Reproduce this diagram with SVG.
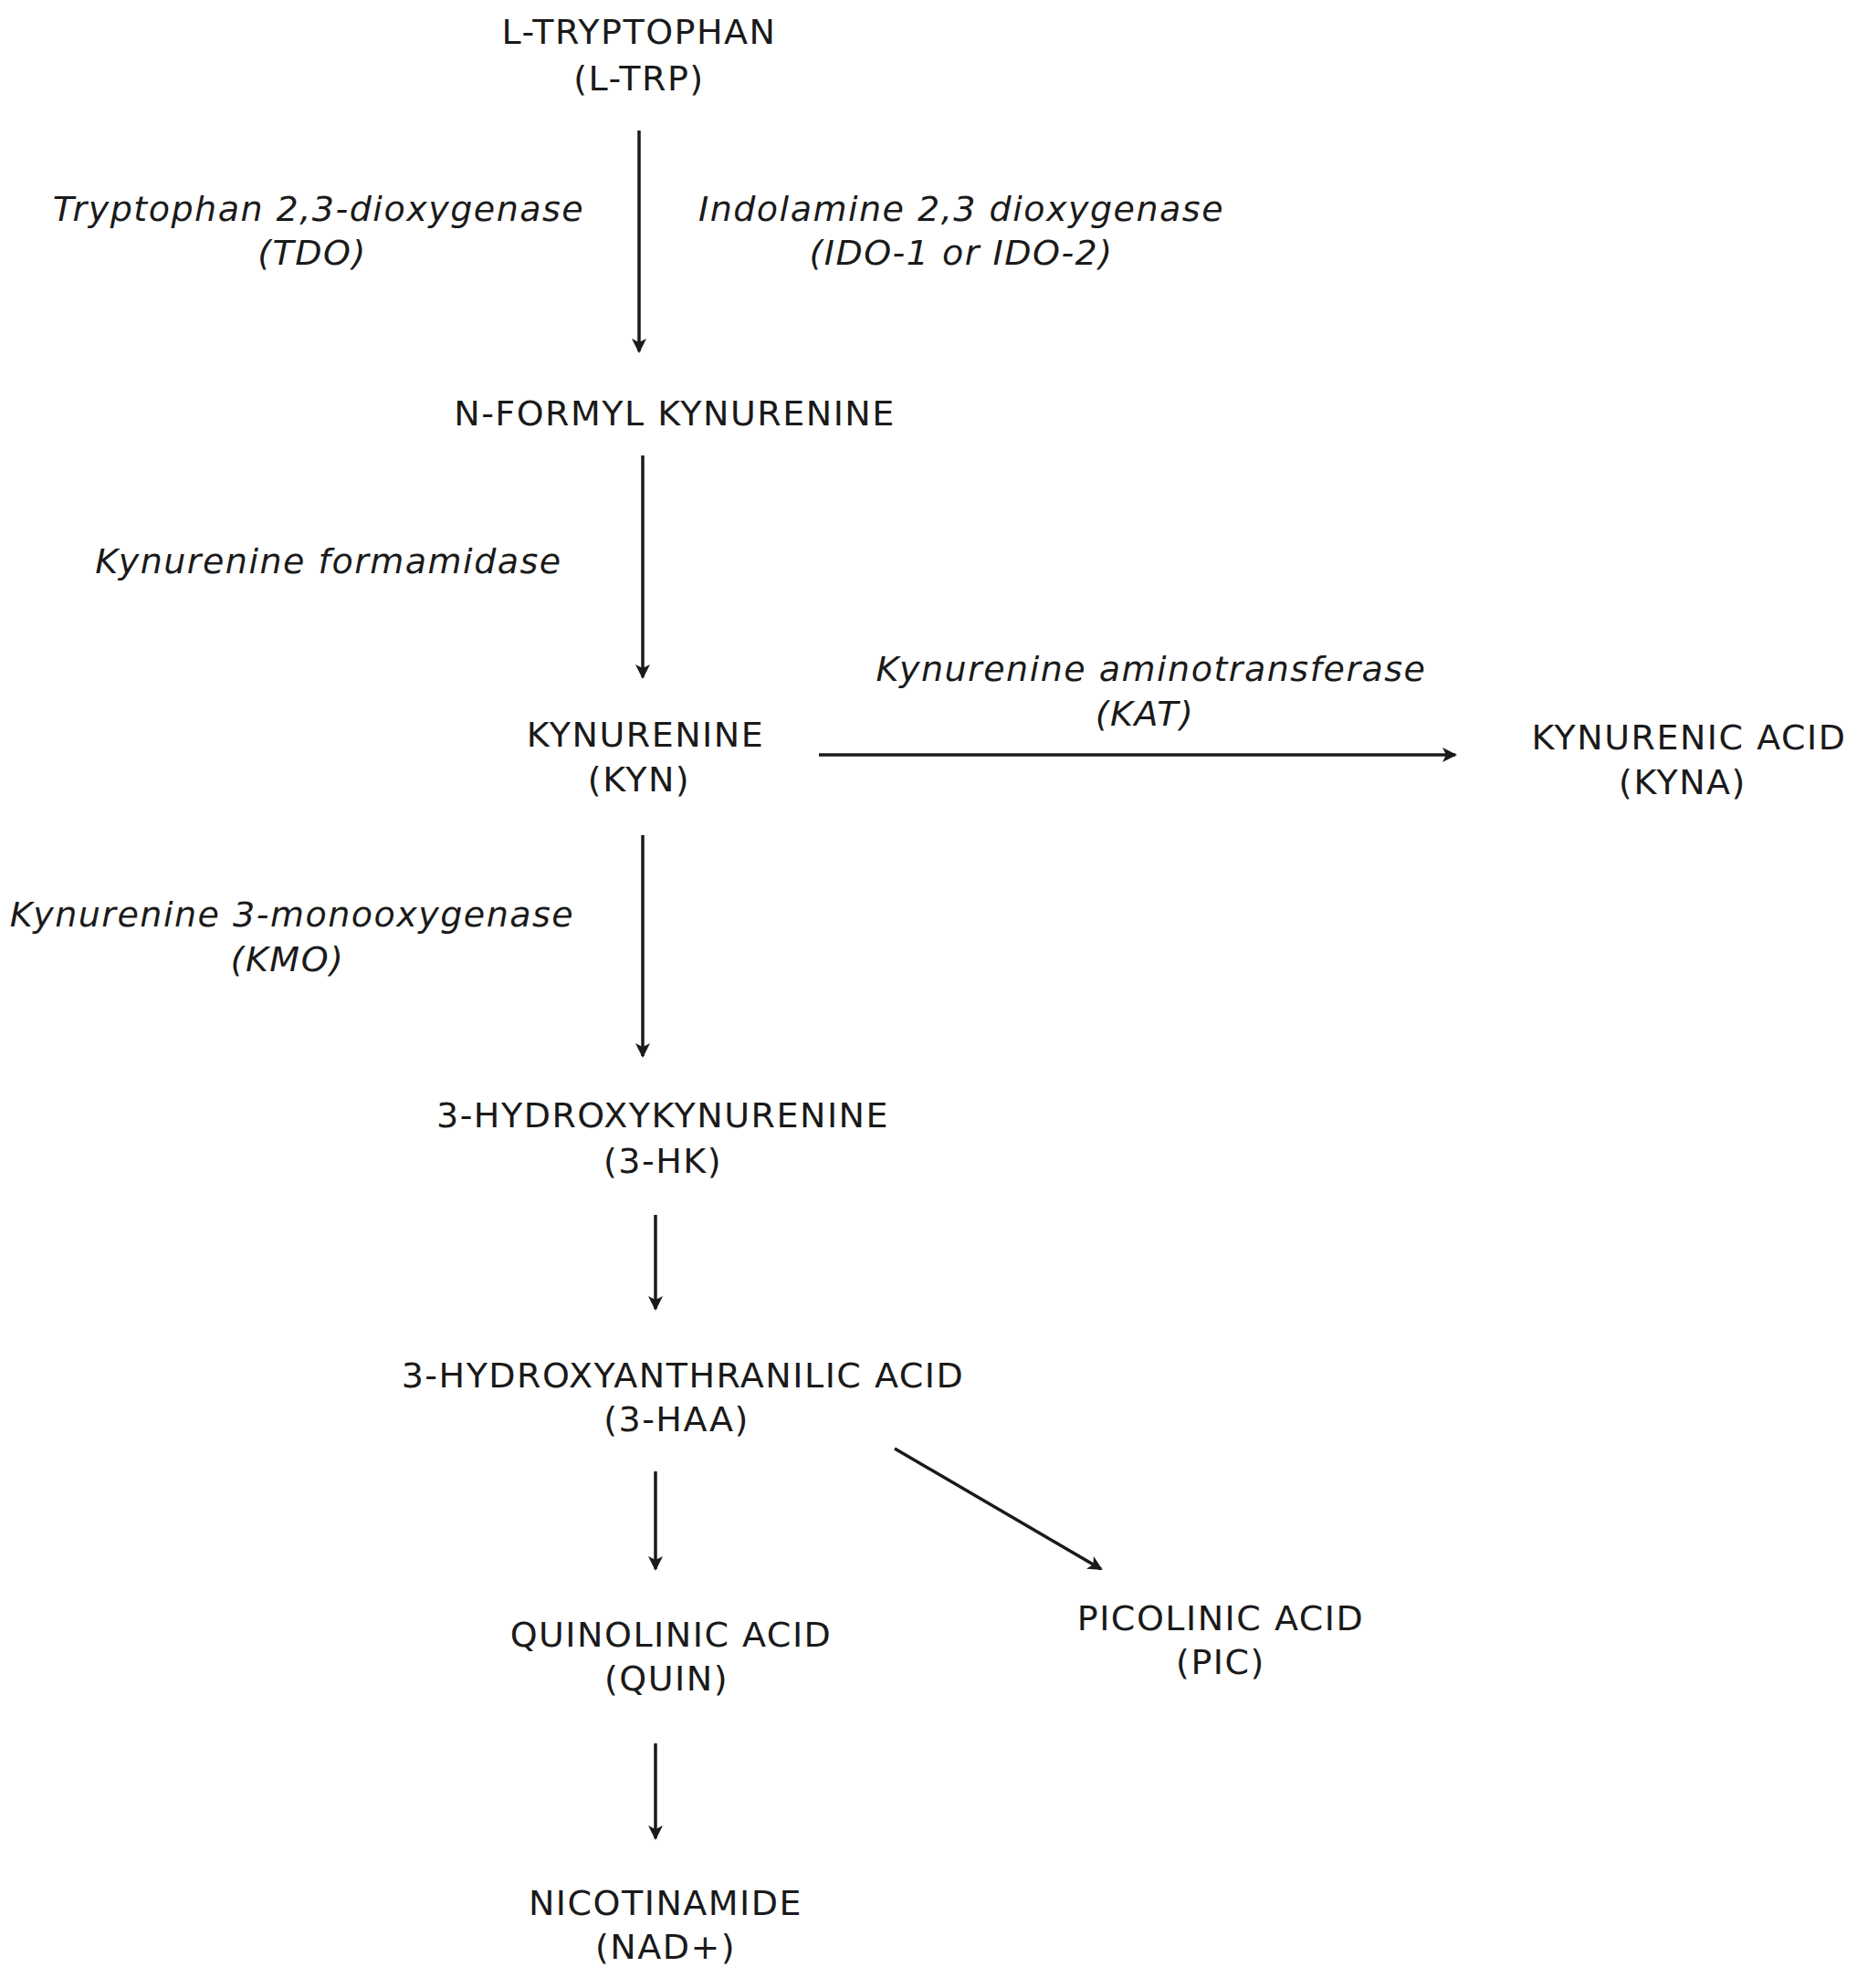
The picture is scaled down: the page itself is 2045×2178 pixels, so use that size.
<svg xmlns="http://www.w3.org/2000/svg" width="2045" height="2178" viewBox="0 0 2045 2178">
<style>
text{font-family:"DejaVu Sans",Verdana,sans-serif;font-size:38px;letter-spacing:1.5px;fill:#1a1a1a;text-anchor:middle}
.e{font-style:italic}
.c line{stroke:#1a1a1a;stroke-width:3.5;marker-end:url(#a)}
</style>
<defs><marker id="a" markerWidth="18" markerHeight="16" refX="14" refY="8" orient="auto" markerUnits="userSpaceOnUse"><path d="M0,0 L16,8 L0,16 L4,8 Z" fill="#1a1a1a"/></marker></defs>
<rect width="2045" height="2178" fill="#fff"/>
<g id="trp"><text x="700" y="48">L-TRYPTOPHAN</text><text x="700" y="99">(L-TRP)</text></g>
<g id="tdo"><text class="e" x="349" y="242">Tryptophan 2,3-dioxygenase</text><text class="e" x="342" y="290">(TDO)</text></g>
<g id="ido"><text class="e" x="1053" y="242">Indolamine 2,3 dioxygenase</text><text class="e" x="1053" y="290">(IDO-1 or IDO-2)</text></g>
<g id="nfk"><text x="739" y="466">N-FORMYL KYNURENINE</text></g>
<g id="kf"><text class="e" x="360" y="628">Kynurenine formamidase</text></g>
<g id="kyn"><text x="707" y="818">KYNURENINE</text><text x="700" y="867">(KYN)</text></g>
<g id="kat"><text class="e" x="1261" y="746">Kynurenine aminotransferase</text><text class="e" x="1254" y="795">(KAT)</text></g>
<g id="kyna"><text x="1850" y="821">KYNURENIC ACID</text><text x="1843" y="870">(KYNA)</text></g>
<g id="kmo"><text class="e" x="320" y="1015">Kynurenine 3-monooxygenase</text><text class="e" x="315" y="1064">(KMO)</text></g>
<g id="hk"><text x="726" y="1235">3-HYDROXYKYNURENINE</text><text x="726" y="1285">(3-HK)</text></g>
<g id="haa"><text x="748" y="1520">3-HYDROXYANTHRANILIC ACID</text><text x="741" y="1568">(3-HAA)</text></g>
<g id="quin"><text x="735" y="1804">QUINOLINIC ACID</text><text x="730" y="1852">(QUIN)</text></g>
<g id="pic"><text x="1337" y="1786">PICOLINIC ACID</text><text x="1337" y="1834">(PIC)</text></g>
<g id="nad"><text x="729" y="2098">NICOTINAMIDE</text><text x="729" y="2146">(NAD+)</text></g>
<g class="c" id="connectors">
<line x1="700" y1="143" x2="700" y2="385"/>
<line x1="704" y1="499" x2="704" y2="742"/>
<line x1="897" y1="827" x2="1594" y2="827"/>
<line x1="704" y1="915" x2="704" y2="1157"/>
<line x1="718" y1="1331" x2="718" y2="1434"/>
<line x1="718" y1="1612" x2="718" y2="1719"/>
<line x1="980" y1="1587" x2="1206" y2="1719"/>
<line x1="718" y1="1910" x2="718" y2="2014"/>
</g>
</svg>
